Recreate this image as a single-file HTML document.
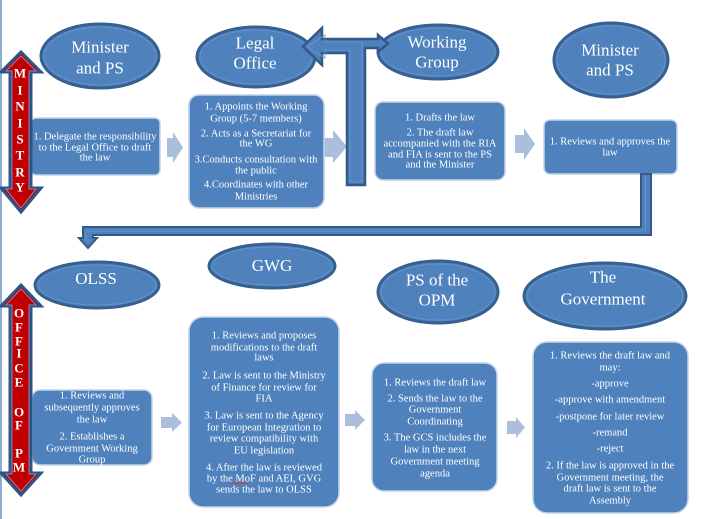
<!DOCTYPE html>
<html><head><meta charset="utf-8"><style>
html,body{margin:0;padding:0;background:#fff;}
svg{display:block;font-family:"Liberation Serif","DejaVu Serif",serif;}
svg text{font-family:"Liberation Serif","DejaVu Serif",serif;fill:#fff;}
.b{font-size:10.5px;text-anchor:middle;}
.e{font-size:17px;text-anchor:middle;}
.r{font-size:13px;font-weight:bold;text-anchor:middle;}
</style></head><body>
<svg width="701" height="519" viewBox="0 0 701 519" xmlns="http://www.w3.org/2000/svg" font-family="Liberation Serif, DejaVu Serif, serif">
<line x1="1" y1="0" x2="1" y2="519" stroke="#6b8fc0" stroke-width="1.5"/>

<!-- ellipses -->
<g fill="#4f81bd" stroke="#36608f" stroke-width="3">
<ellipse cx="100" cy="56" rx="59" ry="32"/>
<ellipse cx="256" cy="57" rx="59" ry="30"/>
<ellipse cx="438" cy="52" rx="60" ry="27"/>
<ellipse cx="611" cy="60" rx="57" ry="37"/>
<ellipse cx="97" cy="285" rx="62" ry="23"/>
<ellipse cx="272" cy="266" rx="63" ry="22"/>
<ellipse cx="438" cy="292" rx="60" ry="31"/>
<ellipse cx="605" cy="296" rx="81" ry="33"/>
</g>
<g fill="none" stroke="#6590c6" stroke-width="1">
<ellipse cx="100" cy="56" rx="56" ry="29"/>
<ellipse cx="256" cy="57" rx="56" ry="27"/>
<ellipse cx="438" cy="52" rx="57" ry="24"/>
<ellipse cx="611" cy="60" rx="54" ry="34"/>
<ellipse cx="97" cy="285" rx="59" ry="20"/>
<ellipse cx="272" cy="266" rx="60" ry="19"/>
<ellipse cx="438" cy="292" rx="57" ry="28"/>
<ellipse cx="605" cy="296" rx="78" ry="30"/>
</g>
<g font-family="Liberation Serif, DejaVu Serif, serif">
<text class="e" x="100" y="52.5">Minister</text><text class="e" x="100" y="73.5">and PS</text>
<text class="e" x="255" y="48.5">Legal</text><text class="e" x="255" y="68.5">Office</text>
<text class="e" x="437" y="47.5">Working</text><text class="e" x="437" y="67.5">Group</text>
<text class="e" x="610" y="55.5">Minister</text><text class="e" x="610" y="75.5">and PS</text>
<text class="e" x="96" y="284">OLSS</text>
<text class="e" x="272" y="271">GWG</text>
<text class="e" x="437" y="285.5">PS of the</text><text class="e" x="437" y="305.5">OPM</text>
<text class="e" x="603" y="282.5">The</text><text class="e" x="603" y="304.5">Government</text>
</g>

<!-- chevrons -->
<g fill="#abbfdd">
<polygon points="167,138 173,138 173,132 183,147.5 173,163 173,157 167,157"/>
<polygon points="322,138 333,138 333,130 347,146.5 333,163 333,157 322,157"/>
<polygon points="515,135 524,135 524,128 535,144 524,160 524,153 515,153"/>
<polygon points="161,417 172,417 172,413 182,422.5 172,432 172,428 161,428"/>
<polygon points="345,414 355,414 355,410 365,420 355,430 355,426 345,426"/>
<polygon points="507,421 516,421 516,417 525,427.5 516,438 516,434 507,434"/>
</g>

<!-- boxes -->
<g fill="#4f81bd" stroke="#c3d4ea" stroke-width="1.5">
<rect x="31" y="118" width="129" height="57" rx="5"/>
<rect x="189" y="95" width="135" height="113" rx="10"/>
<rect x="375" y="102" width="130" height="78" rx="8"/>
<rect x="544" y="120" width="133" height="54" rx="6"/>
<rect x="32" y="390" width="120" height="75" rx="8"/>
<rect x="189" y="317" width="150" height="190" rx="14"/>
<rect x="372" y="363" width="125" height="128" rx="12"/>
<rect x="533" y="342" width="155" height="171" rx="14"/>
</g>

<g font-family="Liberation Serif, DejaVu Serif, serif">
<text class="b" x="95" y="139.5">1. Delegate the responsibility</text>
<text class="b" x="95" y="150.5">to the Legal Office to draft</text>
<text class="b" x="95" y="160.5">the law</text>

<text class="b" x="256" y="109.5">1. Appoints the Working</text>
<text class="b" x="256" y="121.5">Group (5-7 members)</text>
<text class="b" x="256" y="136.5">2. Acts as a Secretariat for</text>
<text class="b" x="256" y="146.5">the WG</text>
<text class="b" x="256" y="162.5">3.Conducts consultation with</text>
<text class="b" x="256" y="173.5">the public</text>
<text class="b" x="256" y="187.5">4.Coordinates with other</text>
<text class="b" x="256" y="199.5">Ministries</text>

<text class="b" x="440" y="120.5">1. Drafts the law</text>
<text class="b" x="440" y="135.5">2. The draft law</text>
<text class="b" x="440" y="146.5">accompanied with the RIA</text>
<text class="b" x="440" y="157.5">and FIA is sent to the PS</text>
<text class="b" x="440" y="167.5">and the Minister</text>

<text class="b" x="610" y="144.5">1. Reviews and approves the</text>
<text class="b" x="610" y="155.5">law</text>

<text class="b" x="92" y="398.5">1. Reviews and</text>
<text class="b" x="92" y="410.5">subsequently approves</text>
<text class="b" x="92" y="422.5">the law</text>
<text class="b" x="92" y="439.5">2. Establishes a</text>
<text class="b" x="92" y="451.5">Government Working</text>
<text class="b" x="92" y="462.5">Group</text>

<text class="b" x="264" y="338.5">1. Reviews and proposes</text>
<text class="b" x="264" y="350.5">modifications to the draft</text>
<text class="b" x="264" y="360.5">laws</text>
<text class="b" x="264" y="378.5">2. Law is sent to the Ministry</text>
<text class="b" x="264" y="390.5">of  Finance for review for</text>
<text class="b" x="264" y="401.5">FIA</text>
<text class="b" x="264" y="418.5">3. Law is sent to the Agency</text>
<text class="b" x="264" y="430.5">for European Integration to</text>
<text class="b" x="264" y="441.5">review  compatibility with</text>
<text class="b" x="264" y="453.5">EU legislation</text>
<text class="b" x="264" y="470.5">4. After the law is reviewed</text>
<text class="b" x="264" y="481.5">by the MoF and AEI, GVG</text>
<text class="b" x="264" y="492.5">sends the law to OLSS</text>

<text class="b" x="435" y="385.5">1. Reviews the draft law</text>
<text class="b" x="435" y="401.5">2. Sends the law to the</text>
<text class="b" x="435" y="412.5">Government</text>
<text class="b" x="435" y="424.5">Coordinating</text>
<text class="b" x="435" y="440.5">3. The GCS includes the</text>
<text class="b" x="435" y="452.5">law in the next</text>
<text class="b" x="435" y="464.5">Government meeting</text>
<text class="b" x="435" y="476.5">agenda</text>

<text class="b" x="610" y="358.5">1. Reviews the draft law and</text>
<text class="b" x="610" y="370.5">may:</text>
<text class="b" x="610" y="386.5">-approve</text>
<text class="b" x="610" y="402.5">-approve with amendment</text>
<text class="b" x="610" y="419.5">-postpone for later review</text>
<text class="b" x="610" y="435.5">-remand</text>
<text class="b" x="610" y="451.5">-reject</text>
<text class="b" x="610" y="468.5">2. If  the law is approved in the</text>
<text class="b" x="610" y="480.5">Government meeting, the</text>
<text class="b" x="610" y="491.5">draft law is sent to the</text>
<text class="b" x="610" y="503.5">Assembly</text>
</g>
<polyline points="231,484 233,482.5 235,484 237,482.5 239,484 241,482.5 243,484 245,482.5 247,484" fill="none" stroke="#e03030" stroke-width="0.8"/>

<!-- big U arrow -->
<polygon points="347,185 347,53 322,53 322,65 303,46.5 322,28 322,39 378,39 378,35 388,43.5 378,52 378,48 365,48 365,185" fill="#4f81bd" stroke="#31598b" stroke-width="2.5" stroke-linejoin="miter"/>
<polygon points="350,182 350,50 325,50 325,58 307,46.5 325,35 325,42 362,42 362,182" fill="none" stroke="#6d96ca" stroke-width="0.8"/>

<!-- connector to OLSS -->
<polygon points="651,174 651,235 93,235 93,238 97,238 88,248 79,238 83,238 83,227 641,227 641,174" fill="#4f81bd" stroke="#31598b" stroke-width="2"/>
<polyline points="645.5,176 645.5,231 86,231 86,240" fill="none" stroke="#6d96ca" stroke-width="0.8"/>

<!-- red arrows -->
<g fill="#c00000" stroke="#2e5489" stroke-width="3" stroke-linejoin="miter">
<polygon points="21,52 41,72 31,72 31,188 41,188 21,212 1,188 10,188 10,72 1,72"/>
<polygon points="21,285 41,306 31,306 31,473 41,473 21,495 1,473 10,473 10,306 1,306"/>
</g>
<g fill="none" stroke="#8aa6cf" stroke-width="0.8">
<polygon points="21,56 36,71 29,71 29,189 36,189 21,208 6,189 12,189 12,71 6,71"/>
<polygon points="21,289 36,305 29,305 29,474 36,474 21,491 6,474 12,474 12,305 6,305"/>
</g>
<g font-family="Liberation Serif, DejaVu Serif, serif">
<text class="r" x="20" y="77.5">M</text>
<text class="r" x="20" y="94.5">I</text>
<text class="r" x="20" y="110.5">N</text>
<text class="r" x="20" y="127.5">I</text>
<text class="r" x="20" y="143.5">S</text>
<text class="r" x="20" y="159.5">T</text>
<text class="r" x="20" y="176.5">R</text>
<text class="r" x="20" y="191.5">Y</text>

<text class="r" x="19" y="317.5">O</text>
<text class="r" x="19" y="331.5">F</text>
<text class="r" x="19" y="345.5">F</text>
<text class="r" x="19" y="357.5">I</text>
<text class="r" x="19" y="372.5">C</text>
<text class="r" x="19" y="386.5">E</text>
<text class="r" x="19" y="416.5">O</text>
<text class="r" x="19" y="429.5">F</text>
<text class="r" x="19" y="457.5">P</text>
<text class="r" x="19" y="471.5">M</text>
</g>
</svg>
</body></html>
